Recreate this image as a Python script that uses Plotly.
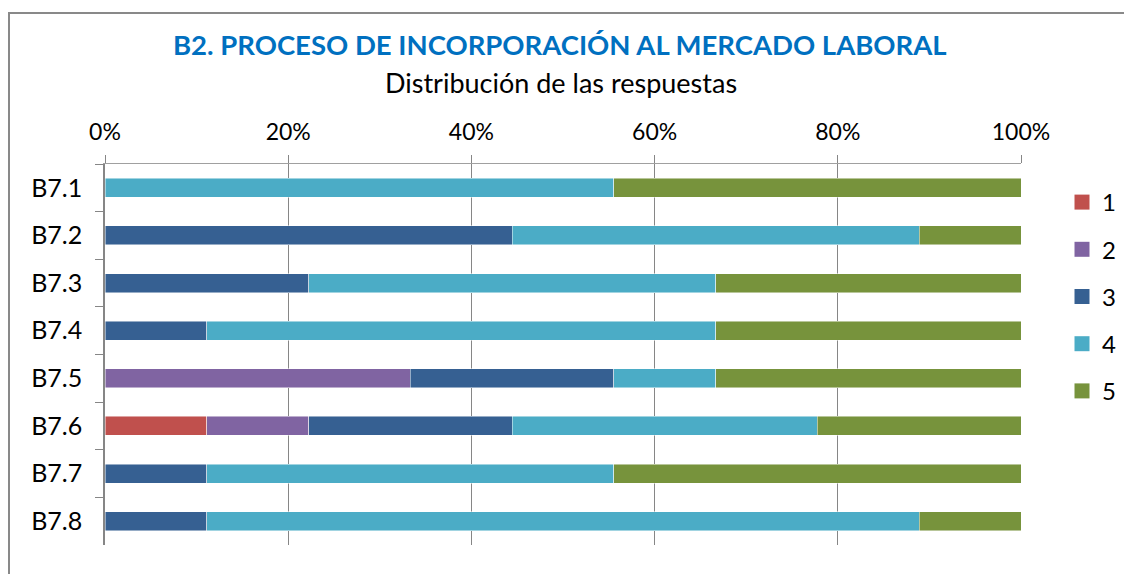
import plotly.graph_objects as go

categories = ["B7.1", "B7.2", "B7.3", "B7.4", "B7.5", "B7.6", "B7.7", "B7.8"]
series_names = ["1", "2", "3", "4", "5"]
v1 = [0, 0, 0, 0, 0, 1/9, 0, 0]
v2 = [0, 0, 0, 0, 3/9, 1/9, 0, 0]
v3 = [0, 4/9, 2/9, 1/9, 2/9, 2/9, 1/9, 1/9]
v4 = [5/9, 4/9, 4/9, 5/9, 1/9, 3/9, 4/9, 7/9]
v5 = [4/9, 1/9, 3/9, 3/9, 3/9, 2/9, 4/9, 1/9]
series_values = [v1, v2, v3, v4, v5]
colors = ["#C0504D", "#8064A2", "#366092", "#4BACC6", "#77933C"]
x_ticks = [0, 0.2, 0.4, 0.6, 0.8, 1.0]

FONT = "Lato"

fig = go.Figure()
for name, vals, col in zip(series_names, series_values, colors):
    fig.add_trace(go.Bar(
        y=categories, x=vals, name=name, orientation="h",
        marker=dict(color=col, line=dict(color="rgba(255,255,255,0.6)", width=0.8)),
        width=0.4, legendgroup=name, showlegend=False,
    ))
# legend entries with square swatches
for name, col in zip(series_names, colors):
    fig.add_trace(go.Scatter(
        x=[None], y=[None], mode="markers", name=name, legendgroup=name,
        marker=dict(symbol="square", size=15, color=col), showlegend=True,
    ))

# page has an 8px body margin: work in page coordinates, convert to figure coordinates
OFF = 8
W, H = 1132 - OFF, 574 - OFF
PL, PR, PT, PB = 105, 1021, 164, 545  # plot area in page pixels
L, R, T, B = PL - OFF, W - (PR - OFF), PT - OFF, H - (PB - OFF)
pw, ph = W - L - R, H - T - B

def px(x):
    return (x - OFF - L) / pw

def py(y):
    return (H - B - (y - OFF)) / ph

fig.update_layout(
    width=W, height=H,
    barmode="stack",
    margin=dict(l=L, r=R, t=T, b=B, autoexpand=False),
    paper_bgcolor="white", plot_bgcolor="white",
    font=dict(family=FONT, size=24, color="black"),
    showlegend=True,
    legend=dict(x=px(1062), y=py(180), xanchor="left", yanchor="top",
                traceorder="grouped", tracegroupgap=13,
                font=dict(size=24, family=FONT), itemwidth=30),
    xaxis=dict(side="top", range=[0, 1], tickvals=x_ticks, tickformat=".0%",
               showgrid=True, gridcolor="#868686", gridwidth=1,
               showline=True, linecolor="#A0A0A0", linewidth=1,
               ticks="outside", ticklen=8, tickcolor="#868686",
               ticklabelstandoff=6, zeroline=False, automargin=False,
               tickfont=dict(size=23)),
    yaxis=dict(type="category", categoryorder="array", categoryarray=categories,
               autorange="reversed", showline=True, linecolor="#868686", linewidth=1.5,
               ticks="outside", ticklen=8, tickcolor="#868686", tickson="boundaries",
               showgrid=False, ticklabelstandoff=16, automargin=False,
               tickfont=dict(size=25)),
    shapes=[dict(type="rect", xref="paper", yref="paper",
                 x0=px(9), x1=px(1140), y0=py(590), y1=py(13),
                 line=dict(color="#898989", width=2), fillcolor="rgba(0,0,0,0)", layer="below")],
    annotations=[
        dict(text="<b>B2. PROCESO DE INCORPORACIÓN AL MERCADO LABORAL</b>", xref="paper", yref="paper",
             x=px(560), y=py(45), xanchor="center", yanchor="middle", showarrow=False,
             font=dict(family=FONT, size=27.5, color="#0070C0")),
        dict(text="Distribución de las respuestas", xref="paper", yref="paper",
             x=px(561), y=py(82), xanchor="center", yanchor="middle", showarrow=False,
             font=dict(family=FONT, size=27, color="black")),
    ],
)

fig.write_html("out.html")
